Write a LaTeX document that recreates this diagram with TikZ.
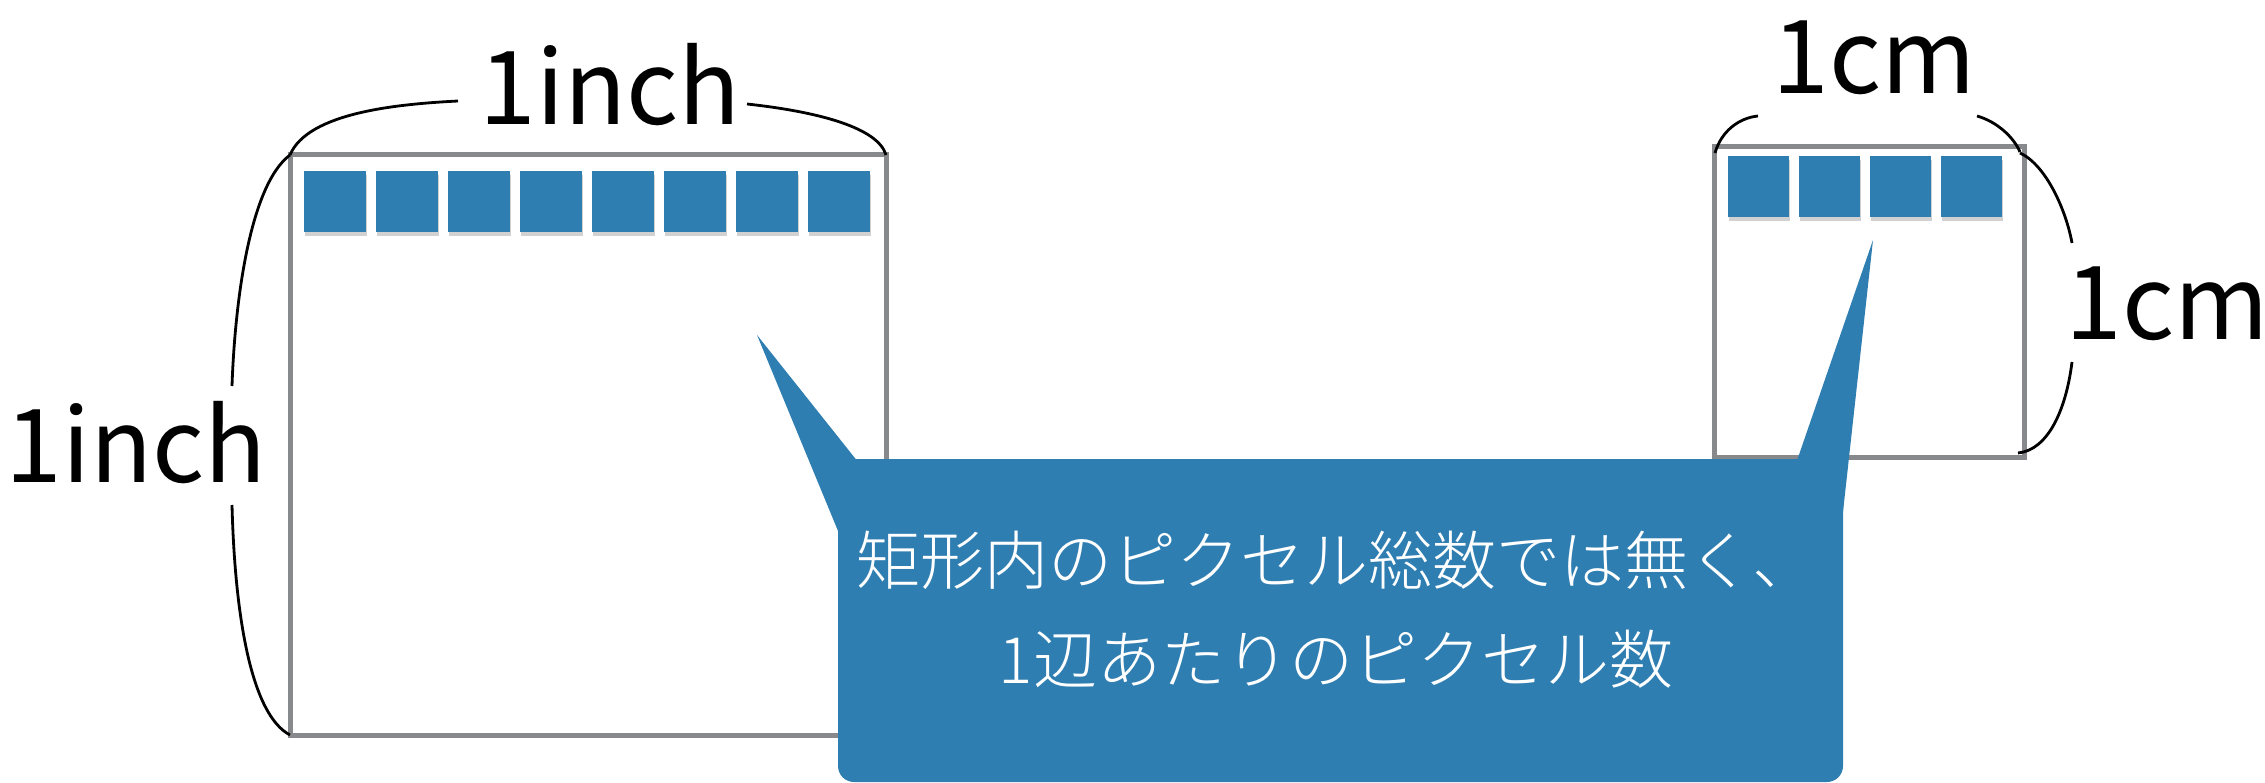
\documentclass[tikz,border=0pt]{standalone}
\usepackage{fontspec}
\setmainfont{Noto Sans CJK JP}[UprightFont={* Light}]
\newfontfamily\labfont{Noto Sans CJK JP}
\usetikzlibrary{shadows}
\definecolor{felt}{RGB}{47,126,178}
\definecolor{framegray}{RGB}{135,137,141}
\begin{document}
\begin{tikzpicture}[x=1pt,y=-1pt,
  frame/.style={draw=framegray,line width=5pt},
  px/.style={fill=felt,minimum width=62pt,minimum height=61pt,inner sep=0pt,
    drop shadow={shadow xshift=1pt,shadow yshift=-4pt,opacity=0.18,fill=black}},
  brace/.style={draw=black,line width=2.8pt},
  lab/.style={font=\labfont\fontsize{102}{102}\selectfont,inner sep=0pt,anchor=base}]
\useasboundingbox (0,0) rectangle (2265,783);
% left square (1 inch)
\draw[frame] (290,155) coordinate (ltl) rectangle (886,735) coordinate (lbr);
\coordinate (ltr) at (886,155);
\coordinate (lbl) at (290,735);
\foreach \i in {0,...,7} {
  \node[px] (lp\i) at ({335+72*\i},201.5) {};
}
% right square (1 cm)
\draw[frame] (1714,147) coordinate (rtl) rectangle (2024,457) coordinate (rbr);
\coordinate (rtr) at (2024,147);
\foreach \i in {0,...,3} {
  \node[px, minimum width=61pt] (rp\i) at ({1758.5+71*\i},186.5) {};
}
% labels
\node[lab] (topinch) at (610,125) {1inch};
\node[lab] (leftinch) at (136,482) {1inch};
\node[lab] (topcm) at (1874,94) {1cm};
\node[lab] (rightcm) at (2167,340) {1cm};
% braces
\draw[brace] (ltl) .. controls (308,112) and (400,104) .. (458,101);
\draw[brace] (747,104) .. controls (820,112) and (878,128) .. (ltr);
\draw[brace] (ltl) .. controls (250,185) and (235,300) .. (232,386);
\draw[brace] (232,505) .. controls (235,620) and (252,715) .. (lbl);
\draw[brace] (1715,153) .. controls (1721,132) and (1738,118) .. (1758,116);
\draw[brace] (1977,116) .. controls (1998,122) and (2014,138) .. (2020,152);
\draw[brace] (2020,153) .. controls (2046,165) and (2066,210) .. (2072,243);
\draw[brace] (2072,362) .. controls (2066,410) and (2048,450) .. (2018,453);
% callout
\fill[felt] (757,335) coordinate (tipL) -- (866,472) -- (900,520) -- (843,543) -- cycle;
\fill[felt] (1873,240) coordinate (tipR) -- (1792,475) -- (1800,520) -- (1841,530) -- cycle;
\fill[felt, rounded corners=16pt] (838,459) rectangle (1843,782);
\node[text=white, font=\fontsize{64}{99}\selectfont, align=center, inner sep=0pt] (msg) at (1336,610)
  {矩形内のピクセル総数では無く、\\1辺あたりのピクセル数};
\end{tikzpicture}
\end{document}
